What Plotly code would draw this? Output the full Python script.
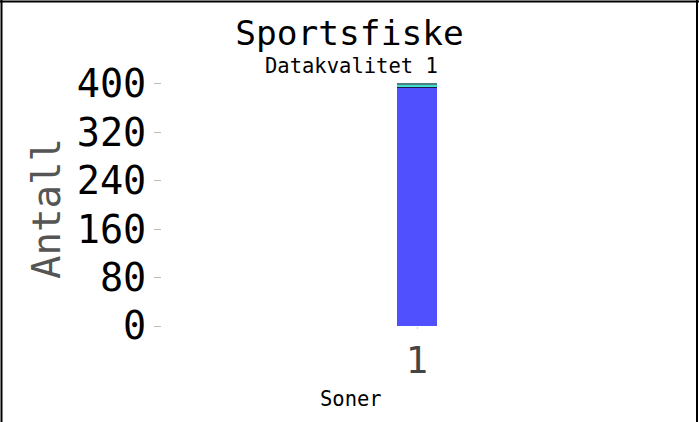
import plotly.graph_objects as go

categories = ["1"]
series_names = ["s1", "s2", "s3", "s4"]
series_values = [[393], [3], [3], [2]]
series_colors = ["#5050FF", "#1E1A50", "#40E0D0", "#4F8080"]
y_ticks = [0, 80, 160, 240, 320, 400]

W, H = 699, 422
ML, MR, MT, MB = 162, 27, 80, 96
pw, ph = W - ML - MR, H - MT - MB

def px_x(p):
    return (p - ML) / pw

def px_y(p):
    return (H - MB - p) / ph

FONT = "DejaVu Sans Mono"

fig = go.Figure()
for name, vals, col in zip(series_names, series_values, series_colors):
    fig.add_trace(go.Bar(x=categories, y=vals, name=name, marker_color=col,
                         marker_line_width=0, width=0.08))

fig.update_layout(
    width=W, height=H, barmode="stack", showlegend=False,
    margin=dict(l=ML, r=MR, t=MT, b=MB),
    paper_bgcolor="white", plot_bgcolor="white",
    font=dict(family=FONT, color="black"),
    title=dict(text="Sportsfiske", x=0.5, xref="container", xanchor="center",
               y=1 - 33 / H, yref="container", yanchor="middle",
               font=dict(size=34.5, family=FONT, color="black")),
    xaxis=dict(type="category", showgrid=False, zeroline=False, showline=False,
               ticks="outside", ticklen=2, tickcolor="#cccccc",
               tickfont=dict(size=37, family=FONT, color="#444444")),
    yaxis=dict(range=[0, 406], tickvals=y_ticks, showgrid=False, zeroline=False,
               showline=False, ticks="outside", ticklen=7, tickcolor="#bbbbbb",
               tickfont=dict(size=38.5, family=FONT, color="black")),
    annotations=[
        dict(text="Antall", xref="paper", yref="paper", x=px_x(46),
             y=px_y(209), xanchor="center", yanchor="middle", showarrow=False,
             textangle=-90, font=dict(size=39, family=FONT, color="#555555")),
        dict(text="Datakvalitet 1", xref="paper", yref="paper", x=px_x(351),
             y=px_y(66), xanchor="center", yanchor="middle", showarrow=False,
             font=dict(size=20.5, family=FONT, color="black")),
        dict(text="Soner", xref="paper", yref="paper", x=px_x(351),
             y=px_y(399), xanchor="center", yanchor="middle", showarrow=False,
             font=dict(size=20.5, family=FONT, color="black")),
    ],
    shapes=[
        dict(type="line", xref="paper", yref="paper", x0=px_x(1.5), x1=px_x(1.5),
             y0=px_y(0), y1=px_y(H), line=dict(color="black", width=2)),
        dict(type="line", xref="paper", yref="paper", x0=px_x(697), x1=px_x(697),
             y0=px_y(0), y1=px_y(H), line=dict(color="black", width=2)),
        dict(type="line", xref="paper", yref="paper", x0=px_x(0), x1=px_x(W),
             y0=px_y(1.5), y1=px_y(1.5), line=dict(color="black", width=2)),
    ],
)

fig.write_html("out.html", config={"displayModeBar": False},
               post_script="document.body.style.margin='0';document.body.style.overflow='hidden';")
